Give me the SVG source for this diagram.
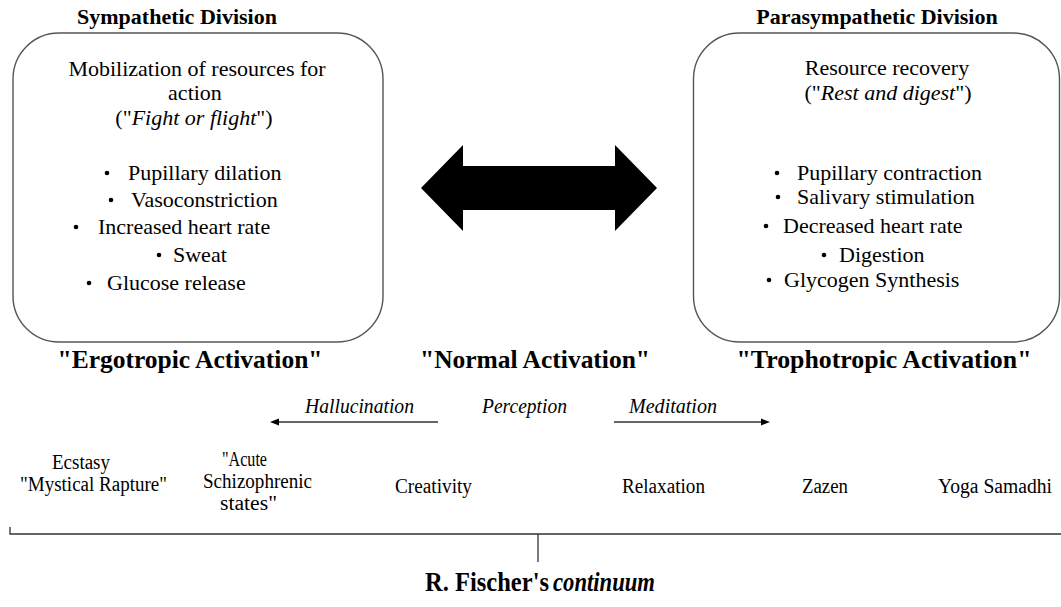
<svg xmlns="http://www.w3.org/2000/svg" width="1061" height="607" viewBox="0 0 1061 607">
<rect width="1061" height="607" fill="#fff"/>

<g id="sympathetic">
<rect x="13" y="33" width="370" height="309" rx="46" ry="46" fill="#fff" stroke="#555" stroke-width="1.4"/>
<text font-family="Liberation Serif" font-size="22" font-weight="bold" text-anchor="middle" x="177" y="24">Sympathetic Division</text>
<text font-family="Liberation Serif" font-size="22" text-anchor="middle" x="197" y="76">Mobilization of resources for</text>
<text font-family="Liberation Serif" font-size="22" text-anchor="middle" x="195" y="100">action</text>
<text font-family="Liberation Serif" font-size="22" text-anchor="middle" x="194" y="125">("<tspan font-style="italic">Fight or flight</tspan>")</text>
<text font-family="Liberation Serif" font-size="22" x="128" y="180">Pupillary dilation</text>
<text font-family="Liberation Serif" font-size="22" x="131" y="207">Vasoconstriction</text>
<text font-family="Liberation Serif" font-size="22" x="98" y="234">Increased heart rate</text>
<text font-family="Liberation Serif" font-size="22" x="173" y="262">Sweat</text>
<text font-family="Liberation Serif" font-size="22" x="107" y="290">Glucose release</text>
<g fill="#000">
<circle cx="107" cy="173" r="2.3"/>
<circle cx="111" cy="200" r="2.3"/>
<circle cx="76" cy="227" r="2.3"/>
<circle cx="159" cy="255" r="2.3"/>
<circle cx="89" cy="283" r="2.3"/>
</g>
</g>

<g id="parasympathetic">
<rect x="693.5" y="33" width="366" height="309" rx="46" ry="46" fill="#fff" stroke="#555" stroke-width="1.4"/>
<text font-family="Liberation Serif" font-size="22" font-weight="bold" text-anchor="middle" x="877" y="24">Parasympathetic Division</text>
<text font-family="Liberation Serif" font-size="22" text-anchor="middle" x="887" y="75">Resource recovery</text>
<text font-family="Liberation Serif" font-size="22" text-anchor="middle" x="888" y="100">("<tspan font-style="italic">Rest and digest</tspan>")</text>
<text font-family="Liberation Serif" font-size="22" x="797" y="180">Pupillary contraction</text>
<text font-family="Liberation Serif" font-size="22" x="797" y="204">Salivary stimulation</text>
<text font-family="Liberation Serif" font-size="22" x="783" y="233">Decreased heart rate</text>
<text font-family="Liberation Serif" font-size="22" x="839" y="262">Digestion</text>
<text font-family="Liberation Serif" font-size="22" x="784" y="287">Glycogen Synthesis</text>
<g fill="#000">
<circle cx="777" cy="173" r="2.3"/>
<circle cx="778" cy="197" r="2.3"/>
<circle cx="766" cy="226" r="2.3"/>
<circle cx="824" cy="255" r="2.3"/>
<circle cx="769" cy="280" r="2.3"/>
</g>
</g>

<g id="double-arrow">
<polygon points="421,188 463,145 463,166 615,166 615,145 657,188 615,231 615,210 463,210 463,231" fill="#000"/>
</g>

<g id="activation-labels">
<text font-family="Liberation Serif" font-size="25" font-weight="bold" text-anchor="middle" x="190" y="368" textLength="265" lengthAdjust="spacingAndGlyphs">"Ergotropic Activation"</text>
<text font-family="Liberation Serif" font-size="25" font-weight="bold" text-anchor="middle" x="535" y="368" textLength="230" lengthAdjust="spacingAndGlyphs">"Normal Activation"</text>
<text font-family="Liberation Serif" font-size="25" font-weight="bold" text-anchor="middle" x="884" y="368" textLength="295" lengthAdjust="spacingAndGlyphs">"Trophotropic Activation"</text>
</g>

<g id="perception-axis">
<text font-family="Liberation Serif" font-size="20" font-style="italic" text-anchor="middle" x="359.5" y="413" textLength="109" lengthAdjust="spacingAndGlyphs">Hallucination</text>
<text font-family="Liberation Serif" font-size="20" font-style="italic" text-anchor="middle" x="524.5" y="413" textLength="85" lengthAdjust="spacingAndGlyphs">Perception</text>
<text font-family="Liberation Serif" font-size="20" font-style="italic" text-anchor="middle" x="673" y="413" textLength="88" lengthAdjust="spacingAndGlyphs">Meditation</text>
</g>

<g id="connectors">
<line x1="438" y1="422" x2="278" y2="422" stroke="#333" stroke-width="1.3"/>
<polygon points="270,422 279,418.5 279,425.5" fill="#000"/>
<line x1="614" y1="422" x2="762" y2="422" stroke="#333" stroke-width="1.3"/>
<polygon points="770,422 761,418.5 761,425.5" fill="#000"/>
<polyline points="10,527 10,534 1061,534" fill="none" stroke="#333" stroke-width="1.3"/>
<line x1="538" y1="534" x2="538" y2="562" stroke="#333" stroke-width="1.3"/>
</g>

<g id="continuum-states">
<text font-family="Liberation Serif" font-size="20" text-anchor="middle" x="81" y="469" textLength="58" lengthAdjust="spacingAndGlyphs">Ecstasy</text>
<text font-family="Liberation Serif" font-size="20" text-anchor="middle" x="93.5" y="491" textLength="147" lengthAdjust="spacingAndGlyphs">"Mystical Rapture"</text>
<text font-family="Liberation Serif" font-size="20" text-anchor="middle" x="244.5" y="466" textLength="45" lengthAdjust="spacingAndGlyphs">"Acute</text>
<text font-family="Liberation Serif" font-size="20" text-anchor="middle" x="257.5" y="488" textLength="109" lengthAdjust="spacingAndGlyphs">Schizophrenic</text>
<text font-family="Liberation Serif" font-size="20" text-anchor="middle" x="248.5" y="510" textLength="57" lengthAdjust="spacingAndGlyphs">states"</text>
<text font-family="Liberation Serif" font-size="20" text-anchor="middle" x="433.5" y="493" textLength="77" lengthAdjust="spacingAndGlyphs">Creativity</text>
<text font-family="Liberation Serif" font-size="20" text-anchor="middle" x="663.5" y="493" textLength="83" lengthAdjust="spacingAndGlyphs">Relaxation</text>
<text font-family="Liberation Serif" font-size="20" text-anchor="middle" x="825" y="493" textLength="46" lengthAdjust="spacingAndGlyphs">Zazen</text>
<text font-family="Liberation Serif" font-size="20" text-anchor="middle" x="995" y="493" textLength="114" lengthAdjust="spacingAndGlyphs">Yoga Samadhi</text>
</g>

<g id="continuum-title">
<text font-family="Liberation Serif" x="425" y="591" font-size="27" font-weight="bold"><tspan textLength="124" lengthAdjust="spacingAndGlyphs">R. Fischer's</tspan><tspan x="553" font-style="italic" textLength="102" lengthAdjust="spacingAndGlyphs">continuum</tspan></text>
</g>
</svg>
